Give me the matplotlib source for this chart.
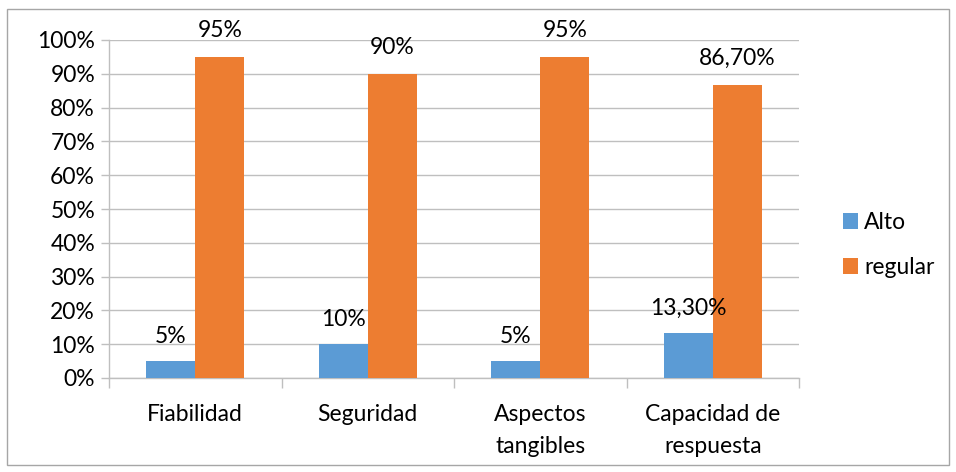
import matplotlib
matplotlib.use("Agg")
import matplotlib.pyplot as plt
from matplotlib.patches import Rectangle
from matplotlib.ticker import MultipleLocator, FuncFormatter
import numpy as np

categories = ["Fiabilidad", "Seguridad", "Aspectos\ntangibles", "Capacidad de\nrespuesta"]
alto = [5.0, 10.0, 5.0, 13.3]
regular = [95.0, 90.0, 95.0, 86.7]
alto_labels = ["5%", "10%", "5%", "13,30%"]
regular_labels = ["95%", "90%", "95%", "86,70%"]

blue = "#5B9BD5"
orange = "#ED7D31"
grid_c = "#BFBFBF"
fs = 16.5

plt.rcParams["font.family"] = ["Lato", "DejaVu Sans"]

W, H = 956, 472
fig = plt.figure(figsize=(W / 100, H / 100), dpi=100)
ax = fig.add_axes([109 / W, 1 - 378 / H, (799 - 109) / W, (378 - 40) / H])

x = np.arange(len(categories))
bw = 0.285
ax.bar(x - bw / 2, alto, bw, color=blue, label="Alto", zorder=3)
ax.bar(x + bw / 2, regular, bw, color=orange, label="regular", zorder=3)

for xi, v, t in zip(x, alto, alto_labels):
    ax.annotate(t, (xi - bw / 2, v), xytext=(0, 18), textcoords="offset points",
                ha="center", va="center", fontsize=fs, color="#000000")
for xi, v, t in zip(x, regular, regular_labels):
    ax.annotate(t, (xi + bw / 2, v), xytext=(0, 19), textcoords="offset points",
                ha="center", va="center", fontsize=fs, color="#000000")

ax.set_xlim(-0.5, len(categories) - 0.5)
ax.set_ylim(0, 100)
ax.yaxis.set_major_locator(MultipleLocator(10))
ax.yaxis.set_major_formatter(FuncFormatter(lambda v, p: f"{v:.0f}%"))
ax.grid(axis="y", color=grid_c, linewidth=1, zorder=0)

ax.set_xticks(np.arange(-0.5, len(categories), 1.0))
ax.set_xticklabels([])
ax.set_xticks(x, minor=True)
ax.set_xticklabels(categories, minor=True, linespacing=1.65)
ax.tick_params(axis="x", which="major", length=7, color=grid_c, width=1)
ax.tick_params(axis="x", which="minor", length=0, pad=19, labelsize=fs)
ax.tick_params(axis="y", length=6, color=grid_c, width=1, labelsize=fs, pad=4)

for s in ["top", "right"]:
    ax.spines[s].set_visible(False)
for s in ["left", "bottom"]:
    ax.spines[s].set_color(grid_c)
    ax.spines[s].set_linewidth(1)

handles, labels = ax.get_legend_handles_labels()
fig.legend(handles=handles, labels=labels,
           loc="center left", bbox_to_anchor=(822 / W, 1 - 245 / H),
           frameon=False, fontsize=fs, handlelength=0.65, handleheight=0.65,
           handletextpad=0.3, labelspacing=1.05)

fig.patches.append(Rectangle((7 / W, 1 - 465 / H), (949 - 7) / W, (465 - 9) / H,
                             transform=fig.transFigure, fill=False,
                             edgecolor="#A6A6A6", linewidth=1))

fig.savefig("out.png", dpi=100)
